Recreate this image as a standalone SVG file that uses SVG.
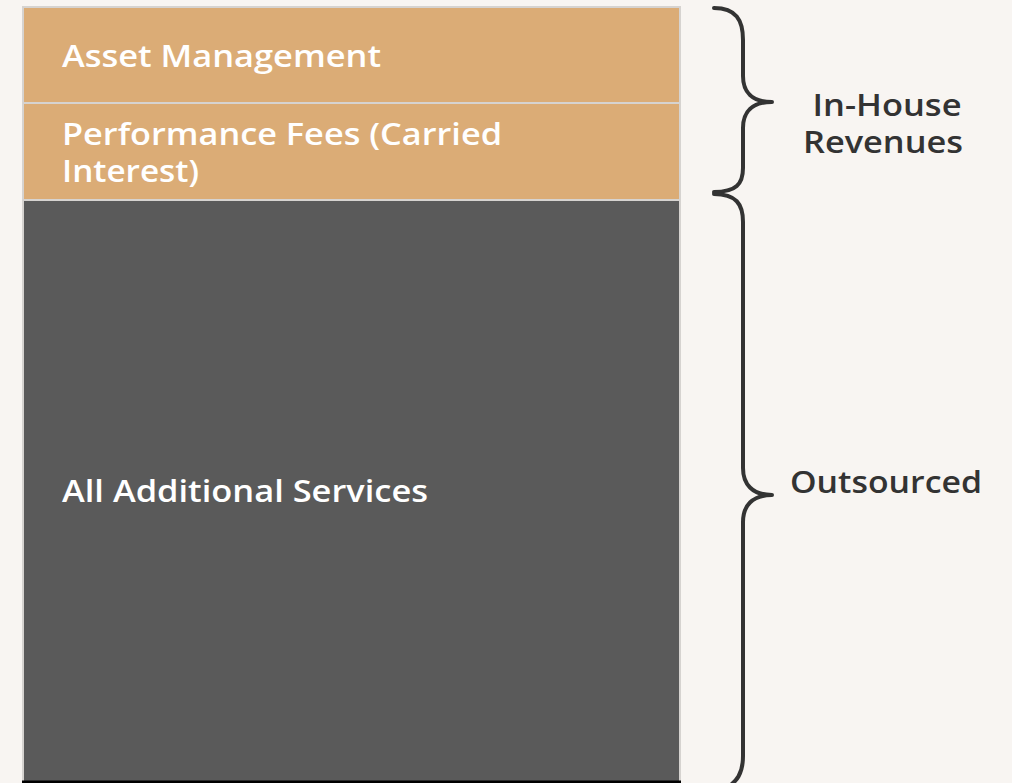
<svg xmlns="http://www.w3.org/2000/svg" width="1012" height="783" viewBox="0 0 1012 783">
<style>
.lbl{font-family:"Open Sans","Liberation Sans",sans-serif;font-weight:600;font-size:30px;fill:#ffffff}
.side{font-family:"Open Sans","Liberation Sans",sans-serif;font-weight:600;font-size:30px;fill:#333333}
.brace{fill:none;stroke:#333333;stroke-width:4;stroke-linecap:round;stroke-linejoin:round}
</style>
<rect width="1012" height="783" fill="#f8f5f2"/>
<g id="asset-management">
<rect x="23" y="7" width="657" height="96" fill="#dbac76" stroke="#d6d3d0" stroke-width="2"/>
<text class="lbl" x="62" y="67" textLength="319" lengthAdjust="spacingAndGlyphs">Asset Management</text>
</g>
<g id="performance-fees">
<rect x="23" y="103" width="657" height="97" fill="#dbac76" stroke="#d6d3d0" stroke-width="2"/>
<text class="lbl" x="62" y="145" textLength="440" lengthAdjust="spacingAndGlyphs">Performance Fees (Carried</text>
<text class="lbl" x="62" y="182" textLength="137" lengthAdjust="spacingAndGlyphs">Interest)</text>
</g>
<g id="additional-services">
<rect x="23" y="200" width="657" height="582" fill="#5a5a5a" stroke="#d6d3d0" stroke-width="2"/>
<line x1="22" y1="782" x2="681" y2="782" stroke="#000" stroke-width="3"/>
<text class="lbl" x="62" y="502" textLength="366" lengthAdjust="spacingAndGlyphs">All Additional Services</text>
</g>
<g id="connectors">
<path class="brace" d="M714 8 C736 8 743 20 743 40 L743 76 C743 92 752 102 772 102 C752 102 743 112 743 128 L743 168 C743 184 736 192 714 192"/>
<path class="brace" d="M714 194 C736 194 743 204 743 222 L743 468 C743 484 752 495 772 495 C752 495 743 506 743 522 L743 756 C743 772 738 783 722 790"/>
</g>
<g id="in-house">
<text class="side" x="887" y="116" text-anchor="middle" textLength="149" lengthAdjust="spacingAndGlyphs">In-House</text>
<text class="side" x="883" y="153" text-anchor="middle" textLength="160" lengthAdjust="spacingAndGlyphs">Revenues</text>
</g>
<g id="outsourced">
<text class="side" x="790" y="493" textLength="192" lengthAdjust="spacingAndGlyphs">Outsourced</text>
</g>
</svg>
